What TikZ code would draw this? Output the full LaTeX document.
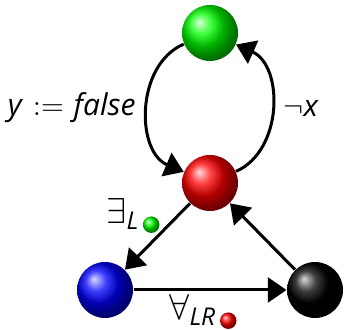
\documentclass[tikz,border=0pt]{standalone}
\usepackage{amsmath,amssymb}
\usepackage{fontspec}
\setsansfont{Open Sans}
\usepackage{tikz}
\usetikzlibrary{arrows.meta,positioning,shapes.misc}
\newcommand{\lbl}[1]{\textsf{\itshape #1}}

\begin{document}
\begin{tikzpicture}[x=0.4pt,y=0.4pt,font=\fontsize{12}{14}\selectfont,
  ball/.style={circle,inner sep=0pt,minimum size=22.4pt},
  dot/.style={circle,inner sep=0pt,minimum size=6.6pt},
  big/.style={font=\fontsize{14}{16}\selectfont},
  arr/.style={line width=1.2pt,-{Triangle[length=7.5pt,width=10pt]}}]
\useasboundingbox (0,0) rectangle (344,330);
\node[ball,ball color=green] (green) at (210,297) {};
\node[ball,ball color=red] (red) at (210,147) {};
\node[ball,ball color=blue] (blue) at (105,40) {};
\node[ball,ball color=black] (black) at (315,40) {};
% loops
\draw[arr] (green) to[out=203,in=157,looseness=1.05] (red);
\draw[arr] (red) to[out=24,in=336,looseness=1.05] (green);
% triangle
\draw[arr] (red) -- (blue);
\draw[arr] (black) -- (red);
\draw[arr] (blue) -- (black);
% labels
\node[anchor=east,inner sep=0pt] (lset) at (136,222) {\lbl{y} $:=$ \lbl{false}};
\node[anchor=west,inner sep=0pt] (lneg) at (283,222) {$\neg$\lbl{x}};
\node[big,anchor=east,inner sep=0pt] (lex) at (140,116) {$\exists_{\text{\lbl{L}}}$};
\node[dot,ball color=green,right=1pt of lex.south east,yshift=2pt] (gdot) {};
\node[big,anchor=west,inner sep=0pt] (lall) at (169,20) {$\forall_{\text{\lbl{LR}}}$};
\node[dot,ball color=red,right=1pt of lall.south east,yshift=2pt] (rdot) {};
\end{tikzpicture}
\end{document}
